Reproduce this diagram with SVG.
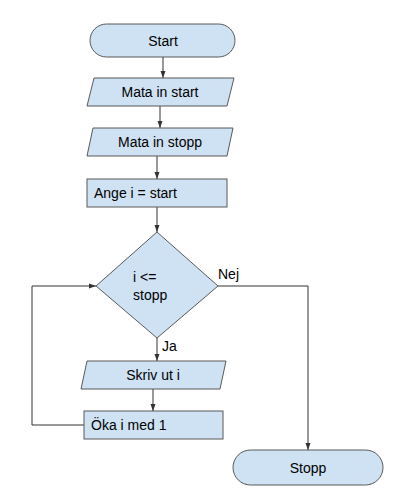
<svg xmlns="http://www.w3.org/2000/svg" width="414" height="500" viewBox="0 0 414 500">
<defs>
<marker id="arr" markerWidth="8" markerHeight="8" refX="7" refY="4" orient="auto" markerUnits="userSpaceOnUse">
<path d="M0,1.5 L7,4 L0,6.5 Z" fill="#333"/>
</marker>
<style>
.shape{fill:#cfe2f3;stroke:#595959;stroke-width:1}
.t{font-family:"Liberation Sans",Arial,sans-serif;font-size:14px;fill:#000}
.c{text-anchor:middle}
.edge{fill:none;stroke:#333;stroke-width:1}
</style>
</defs>
<rect width="414" height="500" fill="#fff"/>
<g id="connectors">
<path class="edge" d="M163,57 L163,78" marker-end="url(#arr)"/>
<path class="edge" d="M160,106 L160,128" marker-end="url(#arr)"/>
<path class="edge" d="M157,156 L157,179" marker-end="url(#arr)"/>
<path class="edge" d="M157,207 L157,232" marker-end="url(#arr)"/>
<path class="edge" d="M157,338 L157,361" marker-end="url(#arr)"/>
<path class="edge" d="M153,389 L153,411" marker-end="url(#arr)"/>
<path class="edge" d="M84,425 L32,425 L32,286 L96,286" marker-end="url(#arr)"/>
<path class="edge" d="M218,286 L308,286 L308,450" marker-end="url(#arr)"/>
<text class="t" x="218" y="279">Nej</text>
<text class="t" x="162" y="351">Ja</text>
</g>
<g id="start">
<rect class="shape" x="90" y="24" width="145" height="33" rx="16.5"/>
<text class="t c" x="163" y="46">Start</text>
</g>
<g id="mata-in-start">
<polygon class="shape" points="94,78 234,78 227,106 87,106"/>
<text class="t c" x="160" y="97">Mata in start</text>
</g>
<g id="mata-in-stopp">
<polygon class="shape" points="93,128 233,128 227,156 87,156"/>
<text class="t c" x="160" y="147">Mata in stopp</text>
</g>
<g id="ange">
<rect class="shape" x="87" y="179" width="140" height="28"/>
<text class="t" x="94" y="198">Ange i = start</text>
</g>
<g id="decision">
<polygon class="shape" points="157,232 218,286 157,338 96,286"/>
<text class="t" x="133" y="282">i &lt;=</text>
<text class="t" x="133" y="300">stopp</text>
</g>
<g id="skriv-ut">
<polygon class="shape" points="87,361 226,361 220,389 81,389"/>
<text class="t c" x="153" y="380">Skriv ut i</text>
</g>
<g id="oka">
<rect class="shape" x="84" y="411" width="139" height="28"/>
<text class="t" x="91" y="430">Öka i med 1</text>
</g>
<g id="stopp">
<rect class="shape" x="233" y="450" width="150" height="35" rx="17.5"/>
<text class="t c" x="308" y="473">Stopp</text>
</g>
</svg>
